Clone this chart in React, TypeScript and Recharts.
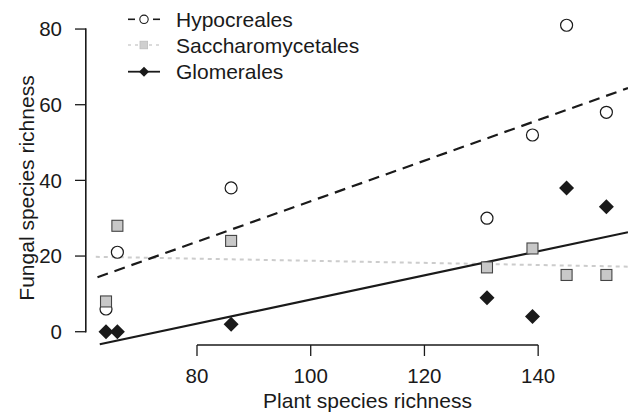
import {
  ComposedChart,
  Scatter,
  XAxis,
  YAxis,
  ReferenceLine,
  Legend,
} from "recharts";

// plant species richness of the seven sites
const PLANT_RICHNESS = [64, 66, 86, 131, 139, 145, 152];

// fungal species richness per order
const HYPOCREALES = [6, 21, 38, 30, 52, 81, 58];
const SACCHAROMYCETALES = [8, 28, 24, 17, 22, 15, 15];
const GLOMERALES = [0, 0, 2, 9, 4, 38, 33];

// fitted lines (start, end)
const HYPO_FIT_X = [62.5, 155.8];
const HYPO_FIT_Y = [14.4, 64.4];
const SACCH_FIT_X = [62.2, 155.8];
const SACCH_FIT_Y = [19.8, 17.2];
const GLOM_FIT_X = [62.9, 155.8];
const GLOM_FIT_Y = [-3.3, 26.3];

const X_TICKS = [80, 100, 120, 140];
const Y_TICKS = [0, 20, 40, 60, 80];
const X_DOMAIN = [60.48, 155.8];
const Y_DOMAIN = [-3.51, 84.24];

const W = 628;
const H = 414;
const TOP = 13;
const X_AXIS_H = 69;
const Y_AXIS_W = 86;

const FONT = "'Liberation Sans', Arial, Helvetica, sans-serif";
const INK = "#1a1a1a";

const toPoints = (xs: number[], ys: number[]) => xs.map((x, i) => ({ x, y: ys[i] }));

const hypoData = toPoints(PLANT_RICHNESS, HYPOCREALES);
const sacchData = toPoints(PLANT_RICHNESS, SACCHAROMYCETALES);
const glomData = toPoints(PLANT_RICHNESS, GLOMERALES);

const Circle = ({ cx, cy }: any) => (
  <circle cx={cx} cy={cy} r={6} fill="#fff" stroke={INK} strokeWidth={1.2} />
);
const Square = ({ cx, cy }: any) => (
  <rect x={cx - 5.5} y={cy - 5.5} width={11} height={11} fill="#c8c8c8" stroke="#444" strokeWidth={1.1} />
);
const Diamond = ({ cx, cy }: any) => (
  <polygon points={`${cx},${cy - 7.5} ${cx + 7.5},${cy} ${cx},${cy + 7.5} ${cx - 7.5},${cy}`} fill={INK} />
);
const NoDot = () => <g />;

// overlay: legend plus the R-style left axis line (first to last tick)
function LegendBox() {
  const rows = [19.3, 45, 71.7];
  const pxPerUnit = (H - TOP - X_AXIS_H) / (Y_DOMAIN[1] - Y_DOMAIN[0]);
  const yPx = (v: number) => TOP + (Y_DOMAIN[1] - v) * pxPerUnit;
  return (
    <svg width={W} height={H} style={{ display: "block", pointerEvents: "none" }}>
      <rect
        x={Y_AXIS_W - 1}
        y={yPx(Y_TICKS[Y_TICKS.length - 1]) - 0.7}
        width={1.6}
        height={yPx(Y_TICKS[0]) - yPx(Y_TICKS[Y_TICKS.length - 1]) + 1.4}
        fill={INK}
      />
      {/* Hypocreales */}
      <line x1={128} y1={rows[0]} x2={135} y2={rows[0]} stroke={INK} strokeWidth={1.6} />
      <line x1={153} y1={rows[0]} x2={160} y2={rows[0]} stroke={INK} strokeWidth={1.6} />
      <circle cx={144} cy={rows[0]} r={4.2} fill="#fff" stroke={INK} strokeWidth={1.1} />
      {/* Saccharomycetales */}
      <line x1={128} y1={rows[1]} x2={160} y2={rows[1]} stroke="#d0d0d0" strokeWidth={1.6} strokeDasharray="3 4" />
      <rect x={140} y={rows[1] - 3.8} width={7.6} height={7.6} fill="#cfcfcf" stroke="#bdbdbd" strokeWidth={0.8} />
      {/* Glomerales */}
      <line x1={128} y1={rows[2]} x2={160} y2={rows[2]} stroke={INK} strokeWidth={1.8} />
      <polygon points={`144,${rows[2] - 5} 149,${rows[2]} 144,${rows[2] + 5} 139,${rows[2]}`} fill={INK} />
      {["Hypocreales", "Saccharomycetales", "Glomerales"].map((t, i) => (
        <text key={t} x={176} y={rows[i]} dominantBaseline="central" fontSize={21} fontFamily={FONT} fill={INK}>
          {t}
        </text>
      ))}
    </svg>
  );
}

export default function App() {
  const tickStyle = { fontSize: 20.5, fontFamily: FONT, fill: INK };
  return (
    <div style={{ position: "absolute", left: 0, top: 0, width: W, height: H, background: "#fff" }}>
      <ComposedChart width={W} height={H} margin={{ top: TOP, right: 0, bottom: 0, left: 0 }}>
        <XAxis
          type="number"
          dataKey="x"
          domain={X_DOMAIN}
          ticks={X_TICKS}
          height={X_AXIS_H}
          axisLine={false}
          tickSize={11}
          tickMargin={12}
          tickLine={{ stroke: INK, strokeWidth: 1.3 }}
          tick={tickStyle}
          label={{
            content: () => (
              <text x={367.5} y={408} textAnchor="middle" fontSize={21} fontFamily={FONT} fill={INK}>
                Plant species richness
              </text>
            ),
          }}
        />
        <YAxis
          type="number"
          dataKey="y"
          domain={Y_DOMAIN}
          ticks={Y_TICKS}
          width={Y_AXIS_W}
          axisLine={false}
          tickSize={11}
          tickMargin={13}
          tickLine={{ stroke: INK, strokeWidth: 1.3 }}
          tick={tickStyle}
          label={{
            content: () => (
              <text transform="translate(34,188) rotate(-90)" textAnchor="middle" fontSize={21} fontFamily={FONT} fill={INK}>
                Fungal species richness
              </text>
            ),
          }}
        />
        <ReferenceLine
          segment={[{ x: X_TICKS[0], y: Y_DOMAIN[0] }, { x: X_TICKS[X_TICKS.length - 1], y: Y_DOMAIN[0] }]}
          stroke={INK}
          strokeWidth={1.3}
          ifOverflow="visible"
        />
        <Scatter
          data={toPoints(SACCH_FIT_X, SACCH_FIT_Y)}
          line={{ stroke: "#cccccc", strokeWidth: 2, strokeDasharray: "4 4" }}
          shape={NoDot}
          legendType="none"
          isAnimationActive={false}
        />
        <Scatter
          data={toPoints(HYPO_FIT_X, HYPO_FIT_Y)}
          line={{ stroke: INK, strokeWidth: 2.2, strokeDasharray: "11 7" }}
          shape={NoDot}
          legendType="none"
          isAnimationActive={false}
        />
        <Scatter
          data={toPoints(GLOM_FIT_X, GLOM_FIT_Y)}
          line={{ stroke: INK, strokeWidth: 2.2 }}
          shape={NoDot}
          legendType="none"
          isAnimationActive={false}
        />
        <Scatter data={hypoData} shape={Circle} isAnimationActive={false} />
        <Scatter data={sacchData} shape={Square} isAnimationActive={false} />
        <Scatter data={glomData} shape={Diamond} isAnimationActive={false} />
        <Legend
          layout="horizontal"
          align="center"
          verticalAlign="middle"
          content={() => <LegendBox />}
          wrapperStyle={{ position: "absolute", left: 0, top: 0, width: W, height: H, pointerEvents: "none" }}
        />
      </ComposedChart>
    </div>
  );
}
